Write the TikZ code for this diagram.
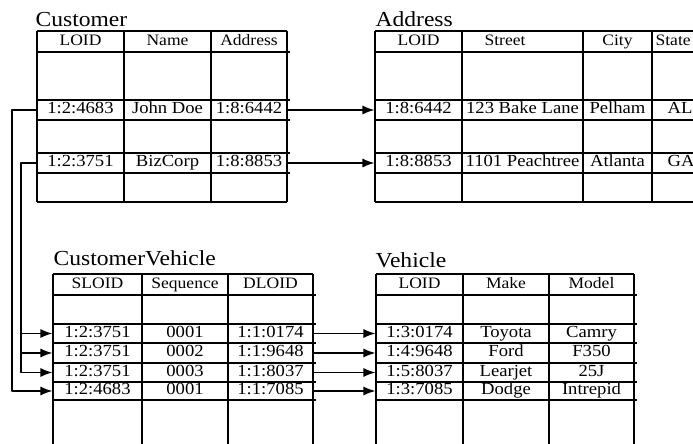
\documentclass[tikz,border=0pt]{standalone}
\usepackage{fontspec}
\setmainfont{Liberation Serif}
\newfontfamily\cellfont[FakeStretch=1.1]{Liberation Serif}
\usetikzlibrary{arrows.meta,calc}

\tikzset{
  tabletitle/.style={anchor=base west,inner sep=0pt,font=\cellfont\fontsize{21.5}{21.5}\selectfont},
  headcell/.style={inner sep=0pt,minimum height=21bp,text height=10.5bp,text depth=3bp,
    font=\cellfont\fontsize{16}{16}\selectfont},
  datacell/.style={inner sep=0pt,minimum height=19bp,text height=11.5bp,text depth=3.5bp,
    font=\cellfont\fontsize{17}{17}\selectfont},
}

\begin{document}
\begin{tikzpicture}[>={Latex[length=12bp,width=9bp]},line join=bevel]
    \pgfsetlinewidth{1.2bp}
  \clip (0bp,0bp) rectangle (693bp,444bp);
  %%
  \pgfsetcolor{black}
    % Table: Customer
  \begin{scope}
    \node[tabletitle] (cust) at (35bp,417bp) {Customer};
    \draw (37bp,413bp) -- (287bp,413bp);
    \draw (37bp,392bp) -- (289.5bp,392bp);
    \draw (37bp,344bp) -- (289.5bp,344bp);
    \draw (37bp,324bp) -- (289.5bp,324bp);
    \draw (37bp,291bp) -- (289.5bp,291bp);
    \draw (37bp,271bp) -- (289.5bp,271bp);
    \draw (37bp,242bp) -- (287bp,242bp);
    \draw (37bp,413bp) -- (37bp,242bp);
    \draw (124bp,413bp) -- (124bp,242bp);
    \draw (211bp,413bp) -- (211bp,242bp);
    \draw (287bp,413bp) -- (287bp,242bp);
    \node[headcell,minimum width=87bp] (cust-h-loid) at (80.5bp,402.5bp) {LOID};
    \node[headcell,minimum width=87bp] (cust-h-name) at (167.5bp,402.5bp) {Name};
    \node[headcell,minimum width=76bp] (cust-h-addr) at (249bp,402.5bp) {Address};
    \node[datacell,minimum width=87bp] (cust-r1-loid) at (80.5bp,334bp) {1:2:4683};
    \node[datacell,minimum width=87bp] (cust-r1-name) at (167.5bp,334bp) {John Doe};
    \node[datacell,minimum width=76bp] (cust-r1-addr) at (249bp,334bp) {1:8:6442};
    \node[datacell,minimum width=87bp] (cust-r2-loid) at (80.5bp,281bp) {1:2:3751};
    \node[datacell,minimum width=87bp] (cust-r2-name) at (167.5bp,281bp) {BizCorp};
    \node[datacell,minimum width=76bp] (cust-r2-addr) at (249bp,281bp) {1:8:8853};
  \end{scope}
    % Table: Address
  \begin{scope}
    \node[tabletitle] (addr) at (375bp,417bp) {Address};
    \draw (375bp,413bp) -- (712bp,413bp);
    \draw (375bp,392bp) -- (712bp,392bp);
    \draw (375bp,344bp) -- (712bp,344bp);
    \draw (375bp,324bp) -- (712bp,324bp);
    \draw (375bp,291bp) -- (712bp,291bp);
    \draw (375bp,271bp) -- (712bp,271bp);
    \draw (375bp,242bp) -- (712bp,242bp);
    \draw (375bp,413bp) -- (375bp,242bp);
    \draw (462bp,413bp) -- (462bp,242bp);
    \draw (583bp,413bp) -- (583bp,242bp);
    \draw (652bp,413bp) -- (652bp,242bp);
    \draw (710bp,413bp) -- (710bp,242bp);
    \node[headcell,minimum width=87bp] (addr-h-loid) at (418.5bp,402.5bp) {LOID};
    \node[headcell,minimum width=121bp] (addr-h-street) at (505bp,402.5bp) {Street};
    \node[headcell,minimum width=69bp] (addr-h-city) at (617.5bp,402.5bp) {City};
    \node[headcell,anchor=west] (addr-h-state) at (655bp,402.5bp) {State};
    \node[datacell,minimum width=87bp] (addr-r1-loid) at (418.5bp,334bp) {1:8:6442};
    \node[datacell,minimum width=121bp] (addr-r1-street) at (522.5bp,334bp) {123 Bake Lane};
    \node[datacell,minimum width=69bp] (addr-r1-city) at (617.5bp,334bp) {Pelham};
    \node[datacell] (addr-r1-state) at (680bp,334bp) {AL};
    \node[datacell,minimum width=87bp] (addr-r2-loid) at (418.5bp,281bp) {1:8:8853};
    \node[datacell,minimum width=121bp] (addr-r2-street) at (522.5bp,281bp) {1101 Peachtree};
    \node[datacell,minimum width=69bp] (addr-r2-city) at (617.5bp,281bp) {Atlanta};
    \node[datacell] (addr-r2-state) at (681bp,281bp) {GA};
  \end{scope}
    % Table: CustomerVehicle
  \begin{scope}
    \node[tabletitle] (cv) at (53bp,178bp) {CustomerVehicle};
    \draw (53bp,170bp) -- (313bp,170bp);
    \draw (53bp,149bp) -- (315.5bp,149bp);
    \draw (53bp,120bp) -- (315.5bp,120bp);
    \draw (53bp,101bp) -- (315.5bp,101bp);
    \draw (53bp,81bp) -- (315.5bp,81bp);
    \draw (53bp,62bp) -- (315.5bp,62bp);
    \draw (53bp,44bp) -- (315.5bp,44bp);
    \draw (53bp,170bp) -- (53bp,-10bp);
    \draw (142bp,170bp) -- (142bp,-10bp);
    \draw (228bp,170bp) -- (228bp,-10bp);
    \draw (313bp,170bp) -- (313bp,-10bp);
    \node[headcell,minimum width=89bp] (cv-h-sloid) at (97.5bp,159.5bp) {SLOID};
    \node[headcell,minimum width=86bp] (cv-h-seq) at (185bp,159.5bp) {Sequence};
    \node[headcell,minimum width=85bp] (cv-h-dloid) at (270.5bp,159.5bp) {DLOID};
    \node[datacell,minimum width=89bp] (cv-r1-sloid) at (97.5bp,110.5bp) {1:2:3751};
    \node[datacell,minimum width=86bp] (cv-r1-seq) at (185bp,110.5bp) {0001};
    \node[datacell,minimum width=85bp] (cv-r1-dloid) at (270.5bp,110.5bp) {1:1:0174};
    \node[datacell,minimum width=89bp] (cv-r2-sloid) at (97.5bp,91bp) {1:2:3751};
    \node[datacell,minimum width=86bp] (cv-r2-seq) at (185bp,91bp) {0002};
    \node[datacell,minimum width=85bp] (cv-r2-dloid) at (270.5bp,91bp) {1:1:9648};
    \node[datacell,minimum width=89bp] (cv-r3-sloid) at (97.5bp,71.5bp) {1:2:3751};
    \node[datacell,minimum width=86bp] (cv-r3-seq) at (185bp,71.5bp) {0003};
    \node[datacell,minimum width=85bp] (cv-r3-dloid) at (270.5bp,71.5bp) {1:1:8037};
    \node[datacell,minimum width=89bp] (cv-r4-sloid) at (97.5bp,53bp) {1:2:4683};
    \node[datacell,minimum width=86bp] (cv-r4-seq) at (185bp,53bp) {0001};
    \node[datacell,minimum width=85bp] (cv-r4-dloid) at (270.5bp,53bp) {1:1:7085};
  \end{scope}
    % Table: Vehicle
  \begin{scope}
    \node[tabletitle] (veh) at (375bp,176bp) {Vehicle};
    \draw (376bp,170bp) -- (634bp,170bp);
    \draw (376bp,149bp) -- (636.5bp,149bp);
    \draw (376bp,120bp) -- (636.5bp,120bp);
    \draw (376bp,101bp) -- (636.5bp,101bp);
    \draw (376bp,81bp) -- (636.5bp,81bp);
    \draw (376bp,62bp) -- (636.5bp,62bp);
    \draw (376bp,44bp) -- (636.5bp,44bp);
    \draw (376bp,170bp) -- (376bp,-10bp);
    \draw (463bp,170bp) -- (463bp,-10bp);
    \draw (549bp,170bp) -- (549bp,-10bp);
    \draw (634bp,170bp) -- (634bp,-10bp);
    \node[headcell,minimum width=87bp] (veh-h-loid) at (419.5bp,159.5bp) {LOID};
    \node[headcell,minimum width=86bp] (veh-h-make) at (506bp,159.5bp) {Make};
    \node[headcell,minimum width=85bp] (veh-h-model) at (591.5bp,159.5bp) {Model};
    \node[datacell,minimum width=87bp] (veh-r1-loid) at (419.5bp,110.5bp) {1:3:0174};
    \node[datacell,minimum width=86bp] (veh-r1-make) at (506bp,110.5bp) {Toyota};
    \node[datacell,minimum width=85bp] (veh-r1-model) at (591.5bp,110.5bp) {Camry};
    \node[datacell,minimum width=87bp] (veh-r2-loid) at (419.5bp,91bp) {1:4:9648};
    \node[datacell,minimum width=86bp] (veh-r2-make) at (506bp,91bp) {Ford};
    \node[datacell,minimum width=85bp] (veh-r2-model) at (591.5bp,91bp) {F350};
    \node[datacell,minimum width=87bp] (veh-r3-loid) at (419.5bp,71.5bp) {1:5:8037};
    \node[datacell,minimum width=86bp] (veh-r3-make) at (506bp,71.5bp) {Learjet};
    \node[datacell,minimum width=85bp] (veh-r3-model) at (591.5bp,71.5bp) {25J};
    \node[datacell,minimum width=87bp] (veh-r4-loid) at (419.5bp,53bp) {1:3:7085};
    \node[datacell,minimum width=86bp] (veh-r4-make) at (506bp,53bp) {Dodge};
    \node[datacell,minimum width=85bp] (veh-r4-model) at (591.5bp,53bp) {Intrepid};
  \end{scope}
    % Edge: Customer.Address -> Address.LOID
    \draw [->] (cust-r1-addr.east) -- (addr-r1-loid.west);
    \draw [->] (cust-r2-addr.east) -- (addr-r2-loid.west);
    % Edge: Customer.LOID -> CustomerVehicle.SLOID
    \coordinate (trunk-a) at (12bp,0bp);
    \coordinate (trunk-b) at (21bp,0bp);
    \draw [->] (cust-r1-loid.west) -| (trunk-a |- cv-r4-sloid) -- (cv-r4-sloid.west);
    \draw [->] (cust-r2-loid.west) -| (trunk-b |- cv-r3-sloid) -- (cv-r3-sloid.west);
    \draw [->] (trunk-b |- cv-r1-sloid) -- (cv-r1-sloid.west);
    \draw [->] (trunk-b |- cv-r2-sloid) -- (cv-r2-sloid.west);
    % Edge: CustomerVehicle.DLOID -> Vehicle.LOID
    \draw [->] (cv-r1-dloid.east) -- (veh-r1-loid.west);
    \draw [->] (cv-r2-dloid.east) -- (veh-r2-loid.west);
    \draw [->] (cv-r3-dloid.east) -- (veh-r3-loid.west);
    \draw [->] (cv-r4-dloid.east) -- (veh-r4-loid.west);
  %
\end{tikzpicture}
\end{document}
